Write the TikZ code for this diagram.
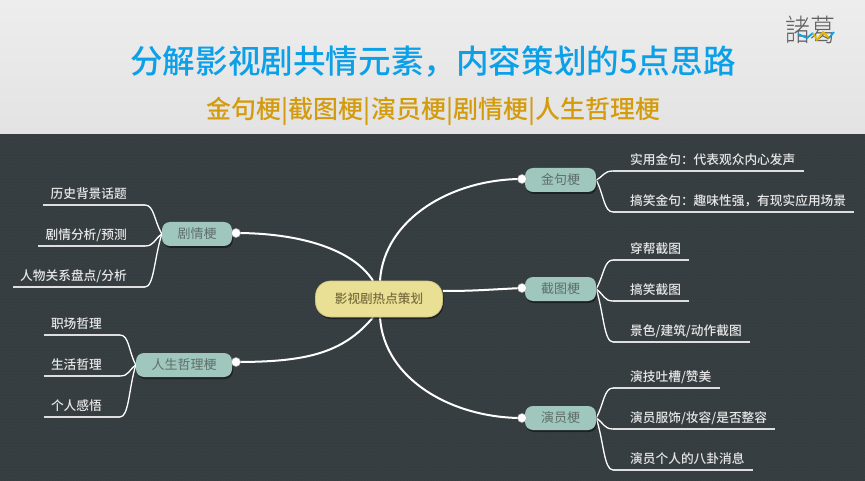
\documentclass[tikz,border=0pt]{standalone}
\usepackage{fontspec}
\setmainfont{Noto Sans CJK SC}
\newfontfamily\lightcjk{Noto Sans CJK SC Light}
\newfontfamily\medcjk{Noto Sans CJK SC Medium}
\usetikzlibrary{shadows,patterns,calc}
\pgfdeclarelayer{bgzero}
\pgfdeclarelayer{bgone}
\pgfsetlayers{bgzero,bgone,main}
\definecolor{darkbg}{HTML}{363D41}
\definecolor{dotc}{HTML}{464D51}
\definecolor{rootfill}{HTML}{E9DF95}
\definecolor{rootedge}{HTML}{CFC47C}
\definecolor{roottext}{HTML}{7A6F3E}
\definecolor{branchfill}{HTML}{9FC7BD}
\definecolor{branchtext}{HTML}{5F6F6A}
\definecolor{leaftext}{HTML}{E6E6E6}
\definecolor{leafline}{HTML}{DEDEDE}
\definecolor{titleblue}{HTML}{0BA0E8}
\definecolor{subgold}{HTML}{D49B0C}
\tikzset{
  shadowed/.style={drop shadow={shadow xshift=1pt,shadow yshift=-2pt,fill=black,opacity=.45}},
  rootnode/.style={shadowed,fill=rootfill,draw=rootedge,line width=.6pt,rounded corners=15pt,minimum width=127pt,minimum height=36pt,inner sep=0pt,text=roottext,font=\medcjk\fontsize{12.6pt}{14pt}\selectfont},
  branchnode/.style={shadowed,fill=branchfill,rounded corners=8pt,minimum height=24pt,inner sep=0pt,text=branchtext,font=\fontsize{13pt}{15pt}\selectfont},
  leafbase/.style={inner sep=0pt,text=leaftext,text height=12pt,text depth=6.5pt,font=\medcjk\fontsize{12.7pt}{14pt}\selectfont},
  rightleaf/.style={leafbase,anchor=south west,execute at begin node={\hspace*{17pt}},execute at end node={\hspace*{8pt}}},
  leftleaf/.style={leafbase,anchor=south east,execute at begin node={\hspace*{7pt}},execute at end node={\hspace*{18pt}}},
  underline/.style={draw=leafline,line width=1.5pt},
  mainline/.style={draw=white,line width=2pt},
  subline/.style={draw=white,line width=1.3pt},
  knob/.style={circle,fill=white,draw=gray!70,line width=.5pt,minimum size=9pt,inner sep=0pt},
  titletext/.style={text=titleblue,inner sep=0pt,font=\medcjk\fontsize{32.6pt}{36pt}\selectfont},
  subtext/.style={text=subgold,inner sep=0pt,font=\medcjk\fontsize{25pt}{28pt}\selectfont},
  logotext/.style={text=black!62,inner sep=0pt,yscale=1.22,font=\lightcjk\fontsize{25pt}{28pt}\selectfont},
}
\begin{document}
\begin{tikzpicture}[x=1pt,y=-1pt]
\useasboundingbox (0,0) rectangle (865,481);
\begin{pgfonlayer}{bgzero}
  \shade[top color=black!7,bottom color=black!11] (0,0) rectangle (865,134);
  \fill[darkbg] (0,134) rectangle (865,481);
  \fill[pattern=dots,pattern color=dotc] (0,134) rectangle (865,481);
\end{pgfonlayer}
% header
\node[titletext] (title) at (433,62) {分解影视剧共情元素，内容策划的5点思路};
\node[subtext] (sub) at (433.5,111) {金句梗|截图梗|演员梗|剧情梗|人生哲理梗};
\node[logotext,transform shape] (logo) at (810,30) {諸葛};
\draw[titleblue,line width=1.8pt,line join=round] (798,34) -- (807,38) -- (813,33);
\draw[subgold!70!yellow,line width=1.8pt,line join=round] (813,33) -- (817,40) -- (823,32) -- (829,38);
\draw[titleblue,line width=1.8pt,line join=round] (829,38) -- (834,32);
% main nodes
\node[rootnode] (root) at (379,299) {影视剧热点策划};
\node[branchnode,minimum width=71pt] (jin) at (560.5,180) {金句梗};
\node[branchnode,minimum width=71pt] (jie) at (560.5,289) {截图梗};
\node[branchnode,minimum width=71pt] (yan) at (560.5,418) {演员梗};
\node[branchnode,minimum width=70pt] (ju) at (197,234) {剧情梗};
\node[branchnode,minimum width=96pt] (ren) at (184,365) {人生哲理梗};
\node[knob] (kjin) at (522,179) {};
\node[knob] (kjie) at (522,288) {};
\node[knob] (kyan) at (522,418) {};
\node[knob] (kju) at (236,233) {};
\node[knob] (kren) at (236,362) {};
% leaves
\node[rightleaf] (a1) at (613,171) {实用金句：代表观众内心发声};
\node[rightleaf] (a2) at (613,212) {搞笑金句：趣味性强，有现实应用场景};
\node[rightleaf] (b1) at (613,260) {穿帮截图};
\node[rightleaf] (b2) at (613,301) {搞笑截图};
\node[rightleaf] (b3) at (613,342) {景色/建筑/动作截图};
\node[rightleaf] (c1) at (613,388) {演技吐槽/赞美};
\node[rightleaf] (c2) at (613,429) {演员服饰/妆容/是否整容};
\node[rightleaf] (c3) at (613,470) {演员个人的八卦消息};
\node[leftleaf] (d1) at (145,205) {历史背景话题};
\node[leftleaf] (d2) at (145,246) {剧情分析/预测};
\node[leftleaf] (d3) at (145,287) {人物关系盘点/分析};
\node[leftleaf] (e1) at (120,335) {职场哲理};
\node[leftleaf] (e2) at (120,376) {生活哲理};
\node[leftleaf] (e3) at (120,417) {个人感悟};
% connectors
\begin{pgfonlayer}{bgone}
  \foreach \n in {a1,a2,b1,b2,b3,c1,c2,c3,d1,d2,d3,e1,e2,e3}
    \draw[underline] (\n.south west) -- (\n.south east);
  \draw[mainline] ([xshift=1pt]root.north) .. controls +(4,-62) and +(-70,0) .. (kjin.center);
  \draw[mainline] ([xshift=1pt]root.south) .. controls +(4,62) and +(-70,0) .. (kyan.center);
  \draw[mainline] ([yshift=8pt]root.east) .. controls +(30,0) and +(-40,2) .. (kjie.center);
  \draw[mainline] ([xshift=-6pt]root.north) .. controls +(-22,-34) and +(58,0) .. (kju.center);
  \draw[mainline] ([xshift=-6pt]root.south) .. controls +(-30,36) and +(70,0) .. (kren.center);
  \foreach \n in {a1,a2} \draw[subline] (jin.east) .. controls ($(jin.east)!.45!(\n.south west)$) and ([xshift=-9pt]\n.south west) .. (\n.south west);
  \foreach \n in {b1,b2,b3} \draw[subline] (jie.east) .. controls ($(jie.east)!.45!(\n.south west)$) and ([xshift=-9pt]\n.south west) .. (\n.south west);
  \foreach \n in {c1,c2,c3} \draw[subline] (yan.east) .. controls ($(yan.east)!.45!(\n.south west)$) and ([xshift=-9pt]\n.south west) .. (\n.south west);
  \foreach \n in {d1,d2,d3} \draw[subline] (ju.west) .. controls ($(ju.west)!.45!(\n.south east)$) and ([xshift=9pt]\n.south east) .. (\n.south east);
  \foreach \n in {e1,e2,e3} \draw[subline] (ren.west) .. controls ($(ren.west)!.45!(\n.south east)$) and ([xshift=9pt]\n.south east) .. (\n.south east);
\end{pgfonlayer}
\end{tikzpicture}
\end{document}
